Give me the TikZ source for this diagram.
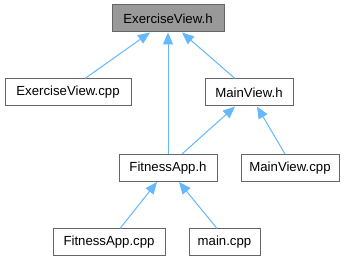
\documentclass[tikz,border=0pt]{standalone}
\usepackage{fontspec}
\setmainfont{Liberation Sans}
\usetikzlibrary{arrows.meta}
\definecolor{edgeblue}{HTML}{63B8FF}
\definecolor{boxline}{HTML}{666666}
\definecolor{boxgray}{HTML}{999999}
\begin{document}
\begin{tikzpicture}[x=1pt,y=-1pt,
  filebox/.style={draw=boxline, line width=1pt, fill=white, minimum height=27pt,
    inner sep=0pt, font=\fontsize{13.2}{15}\selectfont, text=black},
  rootbox/.style={filebox, fill=boxgray},
  dep/.style={draw=edgeblue, line width=1pt,
    -{Triangle[length=12pt,width=10pt]}}]
\useasboundingbox[fill=white] (0,0) rectangle (349,261);
% file nodes
\node[rootbox, minimum width=112pt] (evh) at (168,18.5) {ExerciseView.h};
\node[filebox, minimum width=126pt] (evcpp) at (68,92.5) {ExerciseView.cpp};
\node[filebox, minimum width=88pt] (mvh) at (249,92.5) {MainView.h};
\node[filebox, minimum width=98pt] (fah) at (168,168) {FitnessApp.h};
\node[filebox, minimum width=98pt] (mvcpp) at (290,168) {MainView.cpp};
\node[filebox, minimum width=112pt] (facpp) at (109,242.5) {FitnessApp.cpp};
\node[filebox, minimum width=71pt] (maincpp) at (224.5,242.5) {main.cpp};
% include dependencies
\draw[dep] ([xshift=17pt]evcpp.north) -- ([xshift=-18pt]evh.south);
\draw[dep] (fah.north) -- (evh.south);
\draw[dep] ([xshift=-14pt]mvh.north) -- ([xshift=14pt]evh.south);
\draw[dep] ([xshift=14pt]fah.north) -- ([xshift=-14pt]mvh.south);
\draw[dep] ([xshift=-5pt]mvcpp.north) -- ([xshift=8pt]mvh.south);
\draw[dep] ([xshift=11pt]facpp.north) -- ([xshift=-11pt]fah.south);
\draw[dep] ([xshift=-7.5pt]maincpp.north) -- ([xshift=11pt]fah.south);
\end{tikzpicture}
\end{document}
